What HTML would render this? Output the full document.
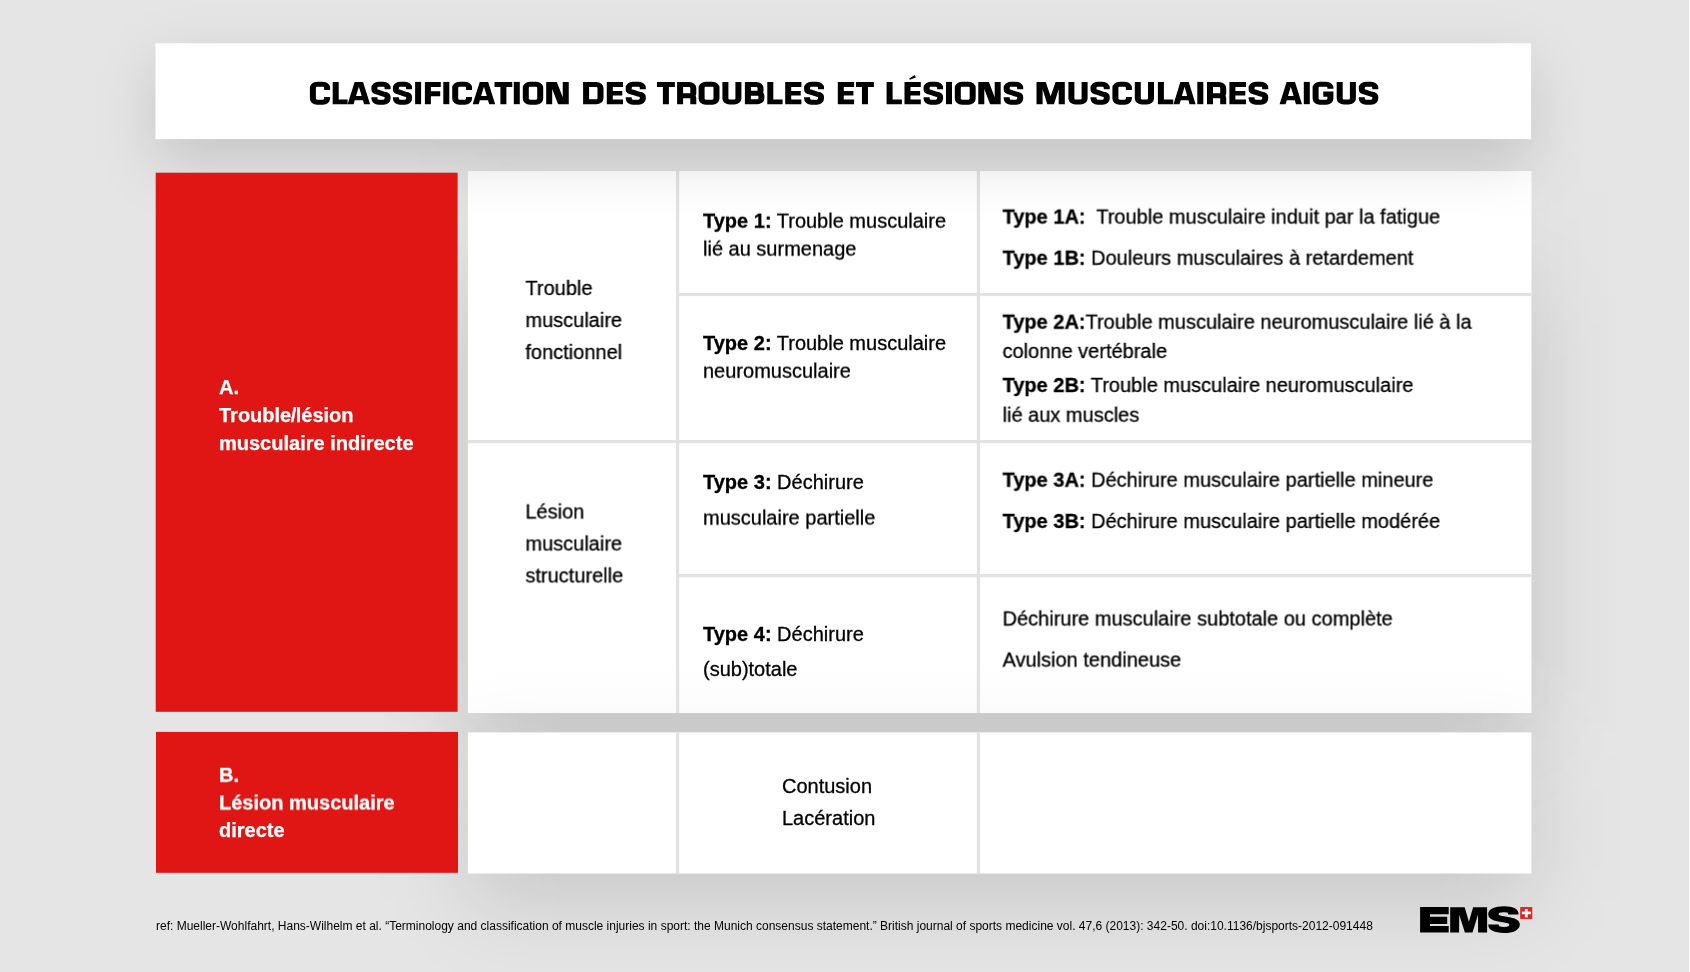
<!DOCTYPE html>
<html lang="fr"><head><meta charset="utf-8"><title>Classification des troubles et lésions musculaires aigus</title>
<style>
html,body{margin:0;padding:0;}
body{width:1690px;height:972px;overflow:hidden;background:#e5e5e5;font-family:"Liberation Sans",sans-serif;position:relative;color:#000;}
.sh{position:absolute;}
svg.shapes{position:absolute;left:0;top:0;}
.t{position:absolute;white-space:pre;font-size:20px;-webkit-text-stroke:0.3px #000;}
.t b{font-weight:bold;}
.w{color:#fff;font-weight:bold;-webkit-text-stroke:0.25px #fff;}
h1{position:absolute;margin:0;left:309.5px;top:73px;font-size:33.1px;line-height:38px;font-weight:bold;white-space:pre;transform-origin:0 0;transform:scaleX(0.963);color:transparent;}
.ref{position:absolute;left:156px;top:919px;font-size:12px;line-height:14px;white-space:pre;color:#000;}
</style></head><body>
<div class="sh" style="left:468px;top:295px;width:1063px;height:438px;background:rgba(0,0,0,0.108);filter:blur(44px);"></div>
<div class="sh" style="left:468px;top:185px;width:1063px;height:540px;background:rgba(0,0,0,0.04);filter:blur(50px);"></div>
<svg class="shapes" width="1690" height="972" viewBox="0 0 1690 972"><rect x="467.9" y="171.1" width="1063.6" height="541.95" fill="#fff"/></svg>
<div class="sh" style="left:468px;top:758px;width:1063px;height:141px;background:rgba(0,0,0,0.135);filter:blur(44px);"></div>
<svg class="shapes" width="1690" height="972" viewBox="0 0 1690 972">
<rect x="467.9" y="732.4" width="1063.6" height="141.1" fill="#fff"/>
<g fill="#e2e2e2">
<rect x="676" y="171.1" width="3.2" height="541.95"/>
<rect x="976.8" y="171.1" width="3.2" height="541.95"/>
<rect x="676" y="732.4" width="3.2" height="141.1"/>
<rect x="976.8" y="732.4" width="3.2" height="141.1"/>
<rect x="677.6" y="292.9" width="853.9" height="3.2"/>
<rect x="467.9" y="440" width="1063.6" height="3.2"/>
<rect x="677.6" y="574" width="853.9" height="3.2"/>
</g>
</svg>
<div class="sh" style="left:156px;top:65px;width:1375px;height:96px;background:rgba(0,0,0,0.14);filter:blur(30px);"></div>
<svg class="shapes" width="1690" height="972" viewBox="0 0 1690 972">
<rect x="155.7" y="172.7" width="301.9" height="539.1" fill="#df1614"/>
<rect x="156" y="731.9" width="302" height="140.9" fill="#df1614"/>
<rect x="155.5" y="43.3" width="1375.6" height="95.8" fill="#fff"/>
</svg>
<div class="sh" style="left:1689px;top:0;width:1px;height:972px;background:#fbfbfb;"></div>
<div id="txt" style="position:absolute;left:0;top:0;width:1690px;height:972px;will-change:transform;">
<h1>CLASSIFICATION DES TROUBLES ET LÉSIONS MUSCULAIRES AIGUS</h1>
<div class="t" style="left:525px;top:274px;line-height:28px;transform:translate3d(0.40px,0.00px,0) rotateX(0.001deg);">Trouble</div>
<div class="t" style="left:525px;top:306px;line-height:28px;transform:translate3d(0.40px,0.00px,0) rotateX(0.001deg);">musculaire</div>
<div class="t" style="left:525px;top:338px;line-height:28px;transform:translate3d(0.40px,0.00px,0) rotateX(0.001deg);">fonctionnel</div>
<div class="t" style="left:525px;top:497px;line-height:28px;transform:translate3d(0.40px,0.50px,0) rotateX(0.001deg);">Lésion</div>
<div class="t" style="left:525px;top:529px;line-height:28px;transform:translate3d(0.40px,0.50px,0) rotateX(0.001deg);">musculaire</div>
<div class="t" style="left:525px;top:561px;line-height:28px;transform:translate3d(0.40px,0.40px,0) rotateX(0.001deg);">structurelle</div>
<div class="t" style="left:703px;top:206px;line-height:28px;transform:translate3d(0.00px,0.70px,0) rotateX(0.001deg);"><b>Type 1:</b> Trouble musculaire</div>
<div class="t" style="left:703px;top:234px;line-height:28px;transform:translate3d(0.00px,0.60px,0) rotateX(0.001deg);">lié au surmenage</div>
<div class="t" style="left:703px;top:329px;line-height:28px;"><b>Type 2:</b> Trouble musculaire</div>
<div class="t" style="left:703px;top:356px;line-height:28px;transform:translate3d(0.00px,0.70px,0) rotateX(0.001deg);">neuromusculaire</div>
<div class="t" style="left:703px;top:468px;line-height:28px;"><b>Type 3:</b> Déchirure</div>
<div class="t" style="left:703px;top:503px;line-height:28px;transform:translate3d(0.00px,0.60px,0) rotateX(0.001deg);">musculaire partielle</div>
<div class="t" style="left:703px;top:620px;line-height:28px;"><b>Type 4:</b> Déchirure</div>
<div class="t" style="left:703px;top:655px;line-height:28px;">(sub)totale</div>
<div class="t" style="left:1002px;top:202px;line-height:28px;transform:translate3d(0.55px,0.60px,0) rotateX(0.001deg);"><b>Type 1A:</b>&nbsp; Trouble musculaire induit par la fatigue</div>
<div class="t" style="left:1002px;top:243px;line-height:28px;transform:translate3d(0.55px,0.70px,0) rotateX(0.001deg);"><b>Type 1B:</b> Douleurs musculaires à retardement</div>
<div class="t" style="left:1002px;top:307px;line-height:28px;transform:translate3d(0.55px,0.70px,0) rotateX(0.001deg);"><b>Type 2A:</b>Trouble musculaire neuromusculaire lié à la</div>
<div class="t" style="left:1002px;top:337px;line-height:28px;transform:translate3d(0.55px,0.00px,0) rotateX(0.001deg);">colonne vertébrale</div>
<div class="t" style="left:1002px;top:371px;line-height:28px;transform:translate3d(0.55px,0.00px,0) rotateX(0.001deg);"><b>Type 2B:</b> Trouble musculaire neuromusculaire</div>
<div class="t" style="left:1002px;top:400px;line-height:28px;transform:translate3d(0.55px,0.70px,0) rotateX(0.001deg);">lié aux muscles</div>
<div class="t" style="left:1002px;top:465px;line-height:28px;transform:translate3d(0.55px,0.70px,0) rotateX(0.001deg);"><b>Type 3A:</b> Déchirure musculaire partielle mineure</div>
<div class="t" style="left:1002px;top:507px;line-height:28px;transform:translate3d(0.55px,0.00px,0) rotateX(0.001deg);"><b>Type 3B:</b> Déchirure musculaire partielle modérée</div>
<div class="t" style="left:1002px;top:604px;line-height:28px;transform:translate3d(0.55px,0.50px,0) rotateX(0.001deg);">Déchirure musculaire subtotale ou complète</div>
<div class="t" style="left:1002px;top:645px;line-height:28px;transform:translate3d(0.55px,0.60px,0) rotateX(0.001deg);">Avulsion tendineuse</div>
<div class="t" style="left:782px;top:772px;line-height:28px;">Contusion</div>
<div class="t" style="left:782px;top:804px;line-height:28px;">Lacération</div>
<div class="t w" style="left:219px;top:373px;line-height:28px;">A.</div>
<div class="t w" style="left:219px;top:401px;line-height:28px;">Trouble<span style="margin:0 -0.55px">/</span>lésion</div>
<div class="t w" style="left:219px;top:429px;line-height:28px;">musculaire indirecte</div>
<div class="t w" style="left:219px;top:760px;line-height:28px;transform:translate3d(0.00px,0.70px,0) rotateX(0.001deg);">B.</div>
<div class="t w" style="left:219px;top:788px;line-height:28px;transform:translate3d(0.00px,0.50px,0) rotateX(0.001deg);">Lésion musculaire</div>
<div class="t w" style="left:219px;top:816px;line-height:28px;">directe</div>
<div class="ref">ref: Mueller-Wohlfahrt, Hans-Wilhelm et al. “Terminology and classification of muscle injuries in sport: the Munich consensus statement.” British journal of sports medicine vol. 47,6 (2013): 342-50. doi:10.1136/bjsports-2012-091448</div>
</div>
<svg class="shapes" width="1690" height="972" viewBox="0 0 1690 972" style="pointer-events:none;will-change:transform">
<g fill="#000"><path transform="translate(309.9,81.65) scale(6.0,5.167)" fill="none" stroke="#000" stroke-width="1" d="M2.87,1.6 V1.2 A0.7 0.7 0 0 0 2.17,0.5 H1.2 A0.7 0.7 0 0 0 0.5,1.2 V3.28 A0.7 0.7 0 0 0 1.2,3.98 H2.17 A0.7 0.7 0 0 0 2.87,3.28 V2.95"/>
<path transform="translate(332.7,81.9)" fill-rule="evenodd" d="M0,0 L6,0 L6,17.6 L14.9,17.6 L14.9,22.3 L0,22.3Z"/>
<path transform="translate(347.6,81.9)" fill-rule="evenodd" d="M0,22.3 L7.05,0 L15.45,0 L22.5,22.3 L16.5,22.3 L15.3,18.4 L7.2,18.4 L6,22.3Z M8.4,14.2 L11.25,4.8 L14.1,14.2Z"/>
<path transform="translate(371.4,81.65) scale(6.0,5.167)" fill="none" stroke="#000" stroke-width="1" d="M2.7,1.45 V1.2 A0.7 0.7 0 0 0 2,0.5 H1.2 A0.7 0.7 0 0 0 0.5,1.2 V1.52 C0.5,1.88 0.68,1.97 1.1,2.03 L2.1,2.45 C2.52,2.51 2.7,2.6 2.7,2.96 V3.28 A0.7 0.7 0 0 1 2,3.98 H1.2 A0.7 0.7 0 0 1 0.5,3.28 V3.03"/>
<path transform="translate(392.9,81.65) scale(6.0,5.167)" fill="none" stroke="#000" stroke-width="1" d="M2.7,1.45 V1.2 A0.7 0.7 0 0 0 2,0.5 H1.2 A0.7 0.7 0 0 0 0.5,1.2 V1.52 C0.5,1.88 0.68,1.97 1.1,2.03 L2.1,2.45 C2.52,2.51 2.7,2.6 2.7,2.96 V3.28 A0.7 0.7 0 0 1 2,3.98 H1.2 A0.7 0.7 0 0 1 0.5,3.28 V3.03"/>
<path transform="translate(415.1,81.9)" fill-rule="evenodd" d="M0,0 L6,0 L6,22.3 L0,22.3Z"/>
<path transform="translate(424.9,81.9)" fill-rule="evenodd" d="M0,0 L15.9,0 L15.9,5 L6,5 L6,9.4 L15.3,9.4 L15.3,14.4 L6,14.4 L6,22.3 L0,22.3Z"/>
<path transform="translate(443.3,81.9)" fill-rule="evenodd" d="M0,0 L6,0 L6,22.3 L0,22.3Z"/>
<path transform="translate(452.2,81.65) scale(6.0,5.167)" fill="none" stroke="#000" stroke-width="1" d="M2.81,1.6 V1.2 A0.7 0.7 0 0 0 2.11,0.5 H1.2 A0.7 0.7 0 0 0 0.5,1.2 V3.28 A0.7 0.7 0 0 0 1.2,3.98 H2.11 A0.7 0.7 0 0 0 2.81,3.28 V2.95"/>
<path transform="translate(472.7,81.9)" fill-rule="evenodd" d="M0,22.3 L7.05,0 L15.45,0 L22.5,22.3 L16.5,22.3 L15.3,18.4 L7.2,18.4 L6,22.3Z M8.4,14.2 L11.25,4.8 L14.1,14.2Z"/>
<path transform="translate(494.5,81.9)" fill-rule="evenodd" d="M0,0 L17.8,0 L17.8,5.2 L11.9,5.2 L11.9,22.3 L5.9,22.3 L5.9,5.2 L0,5.2Z"/>
<path transform="translate(513.8,81.9)" fill-rule="evenodd" d="M0,0 L6,0 L6,22.3 L0,22.3Z"/>
<path transform="translate(522.8,81.65) scale(6.0,5.167)" fill="none" stroke="#000" stroke-width="1" d="M1.2,0.5 H2.2 A0.7 0.7 0 0 1 2.9,1.2 V3.28 A0.7 0.7 0 0 1 2.2,3.98 H1.2 A0.7 0.7 0 0 1 0.5,3.28 V1.2 A0.7 0.7 0 0 1 1.2,0.5Z"/>
<path transform="translate(546.2,81.9)" fill-rule="evenodd" d="M0,0 L22.55,0 L22.55,22.3 L0,22.3Z M10.6,0 L16.55,0 L16.55,15.4Z M6,7 L6,22.3 L11.95,22.3Z"/>
<path transform="translate(583.1,81.9) scale(6.0,5.0)" fill="none" stroke="#000" stroke-width="1" d="M0.5,0.5 H2.2 A0.7 0.7 0 0 1 2.9,1.2 V3.26 A0.7 0.7 0 0 1 2.2,3.96 H0.5Z"/>
<path transform="translate(606.8,81.9)" fill-rule="evenodd" d="M0,0 L16.2,0 L16.2,5 L6,5 L6,9.2 L15.5,9.2 L15.5,13.6 L6,13.6 L6,17.5 L16.2,17.5 L16.2,22.3 L0,22.3Z"/>
<path transform="translate(625.7,81.65) scale(6.0,5.167)" fill="none" stroke="#000" stroke-width="1" d="M2.85,1.45 V1.2 A0.7 0.7 0 0 0 2.15,0.5 H1.2 A0.7 0.7 0 0 0 0.5,1.2 V1.52 C0.5,1.88 0.68,1.97 1.1,2.03 L2.25,2.45 C2.67,2.51 2.85,2.6 2.85,2.96 V3.28 A0.7 0.7 0 0 1 2.15,3.98 H1.2 A0.7 0.7 0 0 1 0.5,3.28 V3.03"/>
<path transform="translate(656.95,81.9)" fill-rule="evenodd" d="M0,0 L17.91,0 L17.91,5.2 L11.95,5.2 L11.95,22.3 L5.95,22.3 L5.95,5.2 L0,5.2Z"/>
<path transform="translate(677.1,81.9) scale(6.0,5.0)" fill="none" stroke="#000" stroke-width="1" d="M0.5,4.46 V0.5 H2 A0.7 0.7 0 0 1 2.7,1.2 V2.26 A0.5 0.5 0 0 1 2.2,2.76 H0.5 M2.2,2.76 A0.5 0.5 0 0 1 2.7,3.26 V4.46"/>
<path transform="translate(698.6,81.65) scale(6.0,5.167)" fill="none" stroke="#000" stroke-width="1" d="M1.2,0.5 H2.28 A0.7 0.7 0 0 1 2.98,1.2 V3.28 A0.7 0.7 0 0 1 2.28,3.98 H1.2 A0.7 0.7 0 0 1 0.5,3.28 V1.2 A0.7 0.7 0 0 1 1.2,0.5Z"/>
<path transform="translate(722.4,81.9) scale(6.0,5.0)" fill="none" stroke="#000" stroke-width="1" d="M0.5,0 V3.34 A0.7 0.7 0 0 0 1.2,4.04 H1.97 A0.7 0.7 0 0 0 2.67,3.34 V0"/>
<path transform="translate(744.9,81.9) scale(6.0,5.0)" fill="none" stroke="#000" stroke-width="1" d="M0.5,2.28 V0.5 H1.9 A0.7 0.7 0 0 1 2.6,1.2 V1.83 A0.45 0.45 0 0 1 2.15,2.28 H0.5 V3.96 H2.05 A0.7 0.7 0 0 0 2.75,3.26 V2.73 A0.45 0.45 0 0 0 2.3,2.28"/>
<path transform="translate(767.3,81.9)" fill-rule="evenodd" d="M0,0 L6,0 L6,17.6 L15.3,17.6 L15.3,22.3 L0,22.3Z"/>
<path transform="translate(785.2,81.9)" fill-rule="evenodd" d="M0,0 L16.2,0 L16.2,5 L6,5 L6,9.2 L15.5,9.2 L15.5,13.6 L6,13.6 L6,17.5 L16.2,17.5 L16.2,22.3 L0,22.3Z"/>
<path transform="translate(804.1,81.65) scale(6.0,5.167)" fill="none" stroke="#000" stroke-width="1" d="M2.82,1.45 V1.2 A0.7 0.7 0 0 0 2.12,0.5 H1.2 A0.7 0.7 0 0 0 0.5,1.2 V1.52 C0.5,1.88 0.68,1.97 1.1,2.03 L2.22,2.45 C2.64,2.51 2.82,2.6 2.82,2.96 V3.28 A0.7 0.7 0 0 1 2.12,3.98 H1.2 A0.7 0.7 0 0 1 0.5,3.28 V3.03"/>
<path transform="translate(837.8,81.9)" fill-rule="evenodd" d="M0,0 L16.3,0 L16.3,5 L6,5 L6,9.2 L15.6,9.2 L15.6,13.6 L6,13.6 L6,17.5 L16.3,17.5 L16.3,22.3 L0,22.3Z"/>
<path transform="translate(856,81.9)" fill-rule="evenodd" d="M0,0 L17.9,0 L17.9,5.2 L11.95,5.2 L11.95,22.3 L5.95,22.3 L5.95,5.2 L0,5.2Z"/>
<path transform="translate(886.6,81.9)" fill-rule="evenodd" d="M0,0 L6,0 L6,17.6 L15.3,17.6 L15.3,22.3 L0,22.3Z"/>
<path transform="translate(904.5,81.9)" fill-rule="evenodd" d="M0,0 L16.3,0 L16.3,5 L6,5 L6,9.2 L15.6,9.2 L15.6,13.6 L6,13.6 L6,17.5 L16.3,17.5 L16.3,22.3 L0,22.3Z"/>
<path transform="translate(923.6,81.65) scale(6.0,5.167)" fill="none" stroke="#000" stroke-width="1" d="M2.75,1.45 V1.2 A0.7 0.7 0 0 0 2.05,0.5 H1.2 A0.7 0.7 0 0 0 0.5,1.2 V1.52 C0.5,1.88 0.68,1.97 1.1,2.03 L2.15,2.45 C2.57,2.51 2.75,2.6 2.75,2.96 V3.28 A0.7 0.7 0 0 1 2.05,3.98 H1.2 A0.7 0.7 0 0 1 0.5,3.28 V3.03"/>
<path transform="translate(946,81.9)" fill-rule="evenodd" d="M0,0 L6,0 L6,22.3 L0,22.3Z"/>
<path transform="translate(954.8,81.65) scale(6.0,5.167)" fill="none" stroke="#000" stroke-width="1" d="M1.2,0.5 H2.28 A0.7 0.7 0 0 1 2.98,1.2 V3.28 A0.7 0.7 0 0 1 2.28,3.98 H1.2 A0.7 0.7 0 0 1 0.5,3.28 V1.2 A0.7 0.7 0 0 1 1.2,0.5Z"/>
<path transform="translate(978.3,81.9)" fill-rule="evenodd" d="M0,0 L22.4,0 L22.4,22.3 L0,22.3Z M10.6,0 L16.4,0 L16.4,15.4Z M6,7 L6,22.3 L11.8,22.3Z"/>
<path transform="translate(1003.7,81.65) scale(6.0,5.167)" fill="none" stroke="#000" stroke-width="1" d="M2.75,1.45 V1.2 A0.7 0.7 0 0 0 2.05,0.5 H1.2 A0.7 0.7 0 0 0 0.5,1.2 V1.52 C0.5,1.88 0.68,1.97 1.1,2.03 L2.15,2.45 C2.57,2.51 2.75,2.6 2.75,2.96 V3.28 A0.7 0.7 0 0 1 2.05,3.98 H1.2 A0.7 0.7 0 0 1 0.5,3.28 V3.03"/>
<path transform="translate(1036.5,81.9)" fill-rule="evenodd" d="M0,0 L28.3,0 L28.3,22.3 L0,22.3Z M9.2,0 L19.1,0 L14.15,14.3Z M6.1,7.4 L6.1,22.3 L10.8,22.3Z M22.2,7.4 L22.2,22.3 L17.5,22.3Z"/>
<path transform="translate(1068.4,81.9) scale(6.0,5.0)" fill="none" stroke="#000" stroke-width="1" d="M0.5,0 V3.34 A0.7 0.7 0 0 0 1.2,4.04 H2 A0.7 0.7 0 0 0 2.7,3.34 V0"/>
<path transform="translate(1090.5,81.65) scale(6.0,5.167)" fill="none" stroke="#000" stroke-width="1" d="M2.71,1.45 V1.2 A0.7 0.7 0 0 0 2.01,0.5 H1.2 A0.7 0.7 0 0 0 0.5,1.2 V1.52 C0.5,1.88 0.68,1.97 1.1,2.03 L2.11,2.45 C2.53,2.51 2.71,2.6 2.71,2.96 V3.28 A0.7 0.7 0 0 1 2.01,3.98 H1.2 A0.7 0.7 0 0 1 0.5,3.28 V3.03"/>
<path transform="translate(1112.4,81.65) scale(6.0,5.167)" fill="none" stroke="#000" stroke-width="1" d="M2.75,1.6 V1.2 A0.7 0.7 0 0 0 2.05,0.5 H1.2 A0.7 0.7 0 0 0 0.5,1.2 V3.28 A0.7 0.7 0 0 0 1.2,3.98 H2.05 A0.7 0.7 0 0 0 2.75,3.28 V2.95"/>
<path transform="translate(1134.8,81.9) scale(6.0,5.0)" fill="none" stroke="#000" stroke-width="1" d="M0.5,0 V3.34 A0.7 0.7 0 0 0 1.2,4.04 H2 A0.7 0.7 0 0 0 2.7,3.34 V0"/>
<path transform="translate(1157.9,81.9)" fill-rule="evenodd" d="M0,0 L6,0 L6,17.6 L15.3,17.6 L15.3,22.3 L0,22.3Z"/>
<path transform="translate(1173.5,81.9)" fill-rule="evenodd" d="M0,22.3 L6.85,0 L15.25,0 L22.1,22.3 L16.1,22.3 L14.9,18.4 L7.2,18.4 L6,22.3Z M8.4,14.2 L11.05,4.8 L13.7,14.2Z"/>
<path transform="translate(1197.3,81.9)" fill-rule="evenodd" d="M0,0 L6,0 L6,22.3 L0,22.3Z"/>
<path transform="translate(1207,81.9) scale(6.0,5.0)" fill="none" stroke="#000" stroke-width="1" d="M0.5,4.46 V0.5 H2 A0.7 0.7 0 0 1 2.7,1.2 V2.26 A0.5 0.5 0 0 1 2.2,2.76 H0.5 M2.2,2.76 A0.5 0.5 0 0 1 2.7,3.26 V4.46"/>
<path transform="translate(1229.4,81.9)" fill-rule="evenodd" d="M0,0 L16.6,0 L16.6,5 L6,5 L6,9.2 L15.9,9.2 L15.9,13.6 L6,13.6 L6,17.5 L16.6,17.5 L16.6,22.3 L0,22.3Z"/>
<path transform="translate(1248.6,81.65) scale(6.0,5.167)" fill="none" stroke="#000" stroke-width="1" d="M2.77,1.45 V1.2 A0.7 0.7 0 0 0 2.07,0.5 H1.2 A0.7 0.7 0 0 0 0.5,1.2 V1.52 C0.5,1.88 0.68,1.97 1.1,2.03 L2.17,2.45 C2.59,2.51 2.77,2.6 2.77,2.96 V3.28 A0.7 0.7 0 0 1 2.07,3.98 H1.2 A0.7 0.7 0 0 1 0.5,3.28 V3.03"/>
<path transform="translate(1279.6,81.9)" fill-rule="evenodd" d="M0,22.3 L7,0 L15.4,0 L22.4,22.3 L16.4,22.3 L15.2,18.4 L7.2,18.4 L6,22.3Z M8.4,14.2 L11.2,4.8 L14,14.2Z"/>
<path transform="translate(1303.8,81.9)" fill-rule="evenodd" d="M0,0 L6,0 L6,22.3 L0,22.3Z"/>
<path transform="translate(1312.6,81.65) scale(6.0,5.167)" fill="none" stroke="#000" stroke-width="1" d="M2.97,1.37 V1.2 A0.7 0.7 0 0 0 2.27,0.5 H1.2 A0.7 0.7 0 0 0 0.5,1.2 V3.28 A0.7 0.7 0 0 0 1.2,3.98 H2.27 A0.7 0.7 0 0 0 2.97,3.28 V2.42 H1.78"/>
<path transform="translate(1336.7,81.9) scale(6.0,5.0)" fill="none" stroke="#000" stroke-width="1" d="M0.5,0 V3.34 A0.7 0.7 0 0 0 1.2,4.04 H2 A0.7 0.7 0 0 0 2.7,3.34 V0"/>
<path transform="translate(1358.8,81.65) scale(6.0,5.167)" fill="none" stroke="#000" stroke-width="1" d="M2.75,1.45 V1.2 A0.7 0.7 0 0 0 2.05,0.5 H1.2 A0.7 0.7 0 0 0 0.5,1.2 V1.52 C0.5,1.88 0.68,1.97 1.1,2.03 L2.15,2.45 C2.57,2.51 2.75,2.6 2.75,2.96 V3.28 A0.7 0.7 0 0 1 2.05,3.98 H1.2 A0.7 0.7 0 0 1 0.5,3.28 V3.03"/>
<path d="M909.1,78.7 L914.6,75.1 L915.9,77.4 L909.75,79.7Z"/></g>
<g id="logo">
<rect x="1520.2" y="907.05" width="12.05" height="11.9" fill="#e2241f"/>
<rect x="1524.9" y="909" width="2.8" height="8.4" fill="#fff"/>
<rect x="1521.9" y="911.6" width="8.95" height="2.6" fill="#fff"/>
<path fill="#000" d="M1420.1,907.1 H1448.7 V914.2 H1430 V916.8 H1447.2 V923.9 H1430 V926.1 H1448.7 V932.4 H1420.1Z"/>
<path fill="#000" fill-rule="evenodd" d="M1450.2,907.2 H1487.1 V932.4 H1450.2Z M1464.7,907.2 H1473.1 L1468.9,921.8Z M1459.1,932.4 H1464.9 L1459.2,914.7Z M1478.1,932.4 H1472.5 L1478,914.7Z"/>
<path transform="translate(1488.2,906.2) scale(1.75,1)" fill="none" stroke="#000" stroke-width="6" d="M14.4,8.4 C14.4,4.5 12.5,3 9,3 C5,3 3,4.8 3,8 C3,11.5 5.5,12.2 9,13.1 C12.5,14 15.06,14.8 15.06,18.4 C15.06,22 12.8,23.7 9,23.7 C5,23.7 3,22 3,18.2"/>
</g>
</svg>
</body></html>
